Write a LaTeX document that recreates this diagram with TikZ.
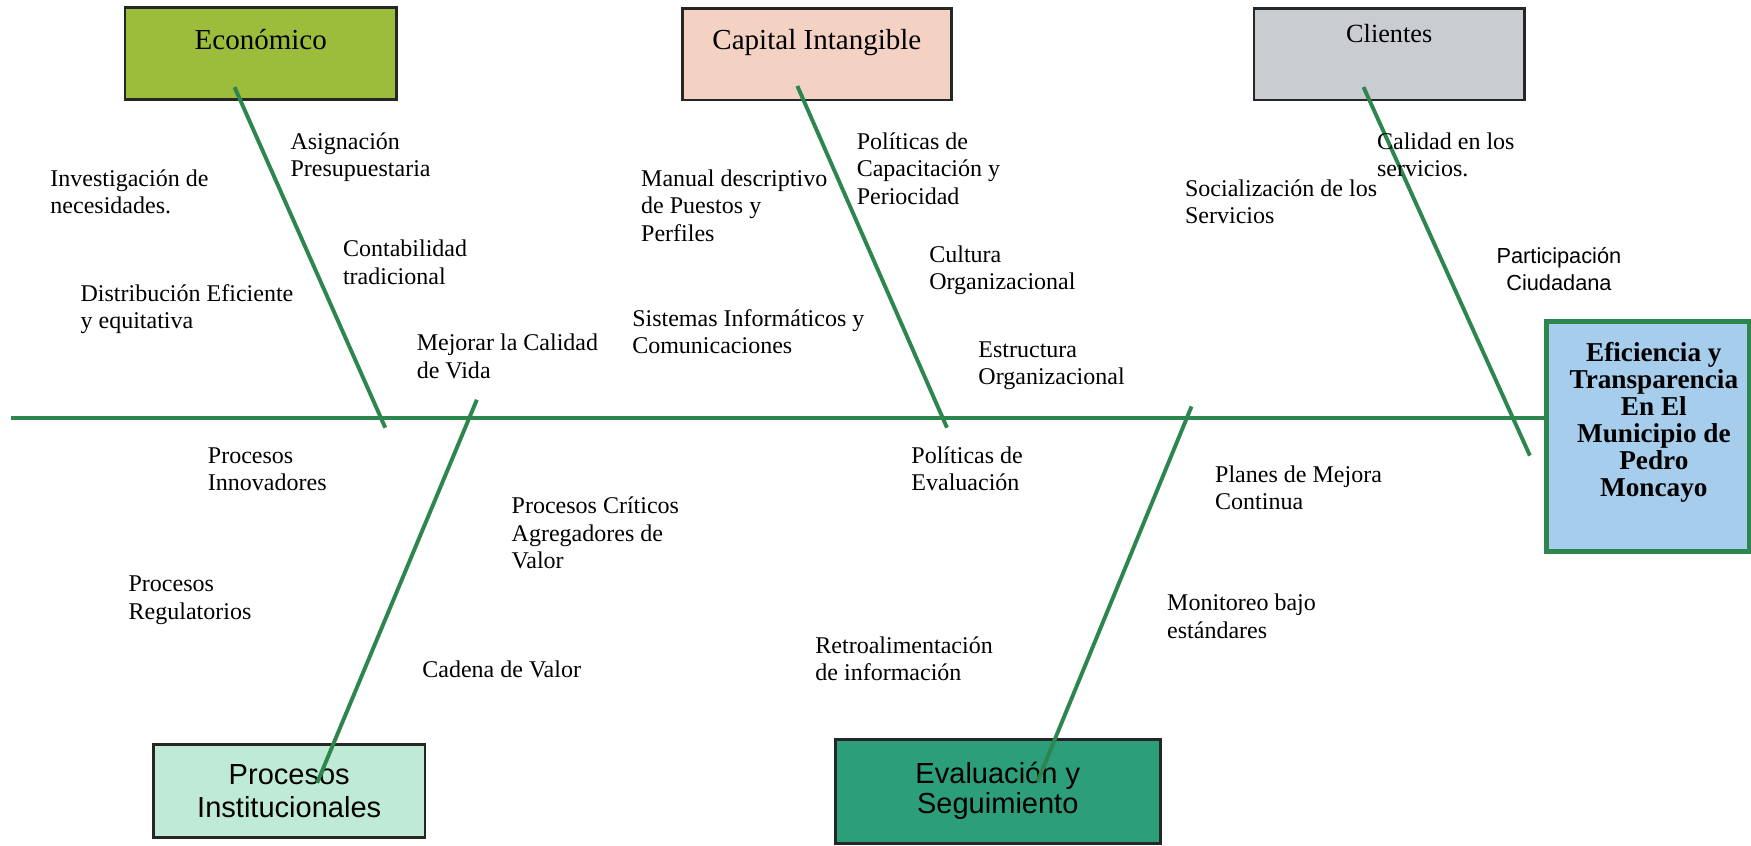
\documentclass[tikz,border=0pt]{standalone}
\usepackage{fontspec}
\setmainfont{Liberation Serif}
\setsansfont{Liberation Sans}
\usepackage{tikz}

\definecolor{bonegreen}{RGB}{44,134,78}
\definecolor{ecofill}{RGB}{156,189,60}
\definecolor{capfill}{RGB}{243,209,195}
\definecolor{clifill}{RGB}{201,205,209}
\definecolor{profill}{RGB}{191,234,213}
\definecolor{evafill}{RGB}{44,158,122}
\definecolor{efffill}{RGB}{166,205,235}

\begin{document}
\begin{tikzpicture}[x=1pt,y=-1pt,
  bone/.style={draw=bonegreen,line width=3.5pt},
  cause box/.style={rectangle,draw=black!85,line width=2.5pt,inner xsep=0pt,inner ysep=5pt,
    minimum width=243pt,font=\fontsize{26}{30}\selectfont},
  top box/.style={cause box,text height=32pt,text depth=40pt},
  bottom box/.style={cause box,align=center,minimum height=83pt,
    font=\sffamily\fontsize{26}{30}\selectfont},
  effect box/.style={rectangle,draw=bonegreen,line width=4pt,fill=efffill,
    minimum width=181pt,minimum height=206pt},
  effect text/.style={align=center,inner sep=0pt,font=\bfseries\fontsize{24.4}{24.2}\selectfont},
  cause label/.style={anchor=base west,align=left,inner sep=0pt,font=\fontsize{21.5}{24.5}\selectfont},
  part label/.style={anchor=base,align=center,inner sep=0pt,font=\sffamily\fontsize{19.5}{24}\selectfont}]

  \useasboundingbox (0,0) rectangle (1568,757);

  % categories
  \node[top box,fill=ecofill] (eco) at (233.5,48) {Económico};
  \node[top box,fill=capfill,minimum width=241pt] (cap) at (731.5,48.5) {Capital Intangible};
  \node[top box,fill=clifill,minimum width=242pt,font=\fontsize{23.5}{28}\selectfont,
    text height=26pt,text depth=46pt] (cli) at (1244,48.5) {Clientes};
  \node[bottom box,fill=profill] (proc) at (259,708.5) {Procesos\\Institucionales};
  \node[bottom box,fill=evafill,minimum width=291pt,minimum height=93pt,
    font=\sffamily\fontsize{26}{27}\selectfont] (eva) at (893.5,708.5) {Evaluación y\\Seguimiento};

  % effect
  \node[effect box] (effect) at (1475.5,391) {};
  \node[effect text] (effect name) at ([xshift=5.5pt,yshift=12.5pt]effect.center)
    {Eficiencia y\\Transparencia\\En El\\Municipio de\\Pedro\\Moncayo};

  % spine and bones
  \coordinate (tail) at (10,374);
  \draw[bone] (tail) -- (tail -| effect.west);

  \coordinate (eco head) at (210,78);   \coordinate (eco foot) at (345,383);
  \coordinate (cap head) at (714,77);   \coordinate (cap foot) at (848,383);
  \coordinate (cli head) at (1221,78);  \coordinate (cli foot) at (1370,408);
  \coordinate (proc head) at (427,358); \coordinate (proc foot) at (284,701);
  \coordinate (eva head) at (1067,364); \coordinate (eva foot) at (929,700);

  \draw[bone] (eco head) -- (eco foot);
  \draw[bone] (cap head) -- (cap foot);
  \draw[bone] (cli head) -- (cli foot);
  \draw[bone] (proc head) -- (proc foot);
  \draw[bone] (eva head) -- (eva foot);

  % sub causes (placed at the baseline of their last line)
  \node[cause label] (asig) at (260,158.5) {Asignación\\Presupuestaria};
  \node[cause label] (inv) at (45,191.5) {Investigación de\\necesidades.};
  \node[cause label] (cont) at (307,254.5) {Contabilidad\\tradicional};
  \node[cause label] (dist) at (72,294.5) {Distribución Eficiente\\y equitativa};
  \node[cause label] (mej) at (373,338.5) {Mejorar la Calidad\\de Vida};
  \node[cause label] (man) at (574,216) {Manual descriptivo\\de Puestos y\\Perfiles};
  \node[cause label] (polcap) at (767,183) {Políticas de\\Capacitación y\\Periocidad};
  \node[cause label] (cult) at (832,259.5) {Cultura\\Organizacional};
  \node[cause label] (sist) at (566,316.5) {Sistemas Informáticos y\\Comunicaciones};
  \node[cause label] (estr) at (876,344.5) {Estructura\\Organizacional};
  \node[cause label] (soc) at (1061,200.5) {Socialización de los\\Servicios};
  \node[cause label] (cal) at (1233,158.5) {Calidad en los\\servicios.};
  \node[part label] (part) at (1396,260) {Participación\\Ciudadana};
  \node[cause label] (innov) at (186,439.5) {Procesos\\Innovadores};
  \node[cause label] (crit) at (458,509) {Procesos Críticos\\Agregadores de\\Valor};
  \node[cause label] (reg) at (115,554.5) {Procesos\\Regulatorios};
  \node[cause label] (cad) at (378,607) {Cadena de Valor};
  \node[cause label] (poleva) at (816,439.5) {Políticas de\\Evaluación};
  \node[cause label] (plan) at (1088,456.5) {Planes de Mejora\\Continua};
  \node[cause label] (mon) at (1045,571.5) {Monitoreo bajo\\estándares};
  \node[cause label] (retro) at (730,609.5) {Retroalimentación\\de información};
\end{tikzpicture}
\end{document}
